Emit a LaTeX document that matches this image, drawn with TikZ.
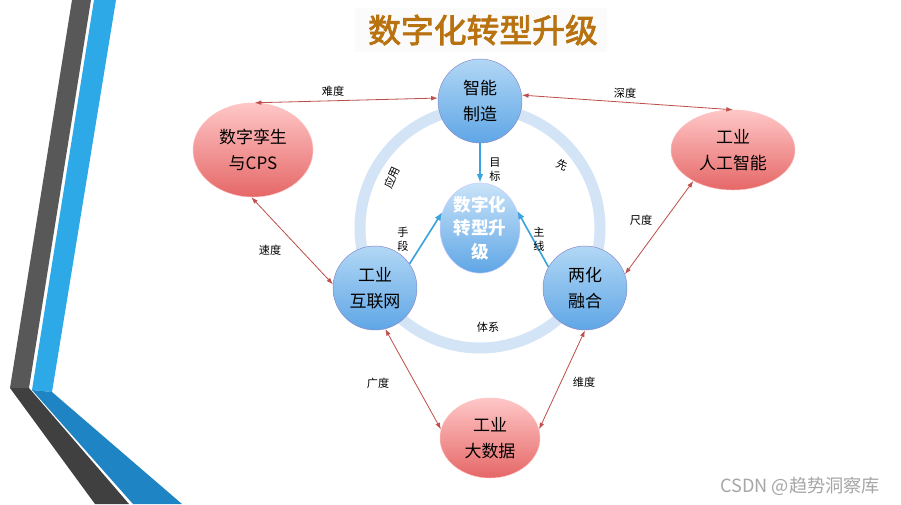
\documentclass[tikz,border=0pt]{standalone}
\usepackage{fontspec}
\setmainfont{Noto Sans CJK SC}
\newfontfamily\titlefont[FakeBold=2.5]{Noto Sans CJK SC}
\usetikzlibrary{arrows.meta,shapes.geometric}
\definecolor{DTBrown}{HTML}{B8720F}
\definecolor{DTRed}{HTML}{C0504D}
\definecolor{DTBlue}{HTML}{3BA3DD}
\definecolor{DTRing}{HTML}{D2E4F6}
\definecolor{DTGrey}{HTML}{585858}
\definecolor{DTGreyDark}{HTML}{404040}
\definecolor{DTSky}{HTML}{2EA9E8}
\definecolor{DTSea}{HTML}{1F84C4}
\definecolor{DTHubTop}{HTML}{B2D7F5}
\definecolor{DTHubBot}{HTML}{5FA6E6}

\begin{document}
\begin{tikzpicture}[
    x=0.3mm, y=-0.3mm,
    hubcircle/.style={
      circle,
      draw=blue!35!gray!70,
      top color=DTHubTop,
      bottom color=DTHubBot,
      minimum size=25.2mm,
      inner sep=0pt,
      align=center,
      font=\fontsize{14.5}{22}\selectfont
    },
    corecircle/.style={
      ellipse,
      draw=blue!20!white,
      top color=DTHubTop!70!white,
      bottom color=DTHubBot,
      minimum width=24mm,
      minimum height=20.4mm,
      inner sep=0pt,
      align=center,
      text=white,
      font=\fontsize{15}{20}\selectfont\bfseries
    },
    redoval/.style={
      ellipse,
      draw=red!25!white,
      top color=red!22!white,
      bottom color=red!55!white!90!black,
      inner sep=0pt,
      align=center,
      font=\fontsize{14.5}{22}\selectfont
    },
    redlink/.style={
      {Latex[length=2mm,width=1.4mm]}-{Latex[length=2mm,width=1.4mm]},
      DTRed,
      line width=0.7pt
    },
    bluearrow/.style={
      -{Latex[length=2.6mm,width=2mm]},
      DTBlue,
      line width=1.4pt
    },
    lbl/.style={
      font=\fontsize{9.5}{12}\selectfont,
      align=center,
      inner sep=1pt
    }
  ]
  \useasboundingbox (0,0) rectangle (901,504);
  \fill[white] (0,0) rectangle (901,504);

  % 左侧折线装饰
  \fill[DTGrey] (72,0) -- (91,0) -- (29,388) -- (10,388) -- cycle;
  \fill[DTGreyDark] (10,388) -- (29,388) -- (129,504) -- (95,504) -- cycle;
  \fill[DTSky] (94,0) -- (116,0) -- (52,392) -- (32,390) -- cycle;
  \fill[DTSea] (32,390) -- (52,392) -- (182,504) -- (133,504) -- cycle;

  % 标题
  \fill[gray!3] (355,8) rectangle (607,52);
  \node[font=\titlefont\fontsize{28}{30}\selectfont, text=DTBrown] (title) at (483,30) {数字化转型升级};

  % 圆环
  \coordinate (ringc) at (480,228);
  \draw[DTRing, line width=3.3mm] (ringc) circle[radius=36mm];

  % 蓝色圆
  \node[hubcircle] (zhizao) at (480,101) {智能\\制造};
  \node[corecircle] (core) at (480,228) {数字化\\转型升\\级};
  \node[hubcircle] (hulian) at (375,288) {工业\\互联网};
  \node[hubcircle] (ronghe) at (585,288) {两化\\融合};

  % 红色椭圆
  \node[redoval, minimum width=36mm, minimum height=28.2mm] (twin) at (253,150) {数字孪生\\与CPS};
  \node[redoval, minimum width=37.2mm, minimum height=24mm] (ai) at (733,150) {工业\\人工智能};
  \node[redoval, minimum width=30mm, minimum height=24mm] (bigdata) at (490,438) {工业\\大数据};

  % 蓝色箭头
  \draw[bluearrow] (zhizao.south) -- (core.north);
  \draw[bluearrow] (hulian.35) -- (core.157);
  \draw[bluearrow] (ronghe.150) -- (core.25);

  % 红色双向连线
  \draw[redlink] (twin.88) -- (zhizao.176);
  \draw[redlink] (zhizao.8) -- (ai.north);
  \draw[redlink] (twin.268) -- (hulian.175);
  \draw[redlink] (ai.218) -- (ronghe.19);
  \draw[redlink] (hulian.284) -- (bigdata.170);
  \draw[redlink] (ronghe.270) -- (bigdata.10);

  % 连线标注
  \node[lbl] (lnandu) at (333,91) {难度};
  \node[lbl] (lshendu) at (625,93) {深度};
  \node[lbl] (lsudu) at (270,250) {速度};
  \node[lbl] (lchidu) at (641,220) {尺度};
  \node[lbl] (lguangdu) at (378,383) {广度};
  \node[lbl] (lweidu) at (584,382) {维度};
  \node[lbl] (lmubiao) at (495,170) {目\\标};
  \node[lbl] (lshouduan) at (403,239) {手\\段};
  \node[lbl] (lzhuxian) at (539,239) {主\\线};
  \node[lbl] (ltixi) at (488,327) {体系};
  \node[lbl, rotate=65, inner sep=0pt] (lyingyong) at (392,178) {应用};
  \node[lbl, rotate=-25] (lxian) at (562,165) {先};

  % 水印
  \node[text=gray!70, font=\fontsize{15.5}{17}\selectfont] (mark) at (800,486) {CSDN @趋势洞察库};
\end{tikzpicture}
\end{document}
